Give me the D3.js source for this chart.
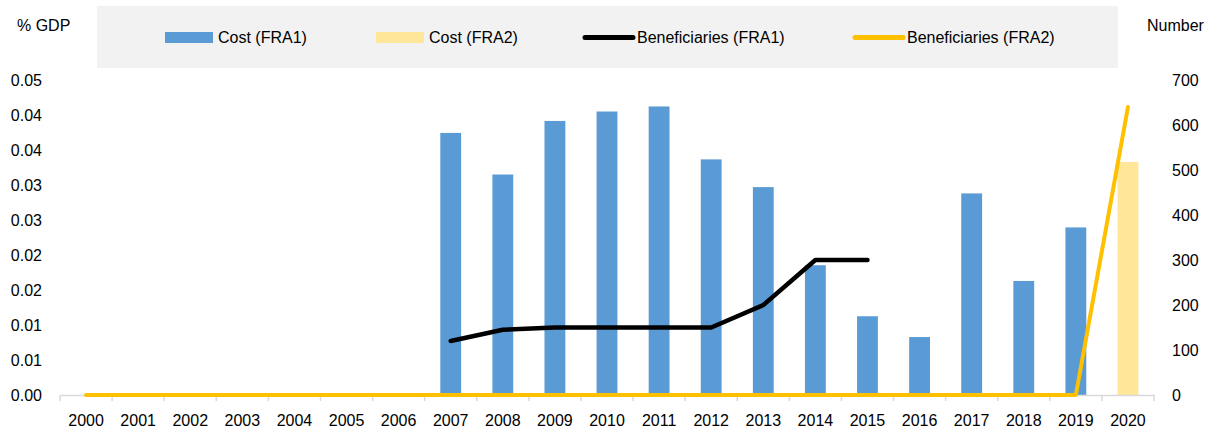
<!DOCTYPE html>
<html><head><meta charset="utf-8">
<script src="https://cdn.jsdelivr.net/npm/d3@7"></script>
<style>body{margin:0;background:#fff;} svg{display:block;font-family:"Liberation Sans",Arial,sans-serif;}</style>
</head><body><div id="chart"></div>
<script>
const years = ["2000","2001","2002","2003","2004","2005","2006","2007","2008","2009","2010","2011","2012","2013","2014","2015","2016","2017","2018","2019","2020"];
const costFRA1 = [null,null,null,null,null,null,null,0.0416,0.0350,0.0435,0.0450,0.0458,0.0374,0.0330,0.0206,0.0125,0.0092,0.0320,0.0181,0.0266,null];
const costFRA2 = [null,null,null,null,null,null,null,null,null,null,null,null,null,null,null,null,null,null,null,null,0.0370];
const benFRA1 = [null,null,null,null,null,null,null,120,145,150,150,150,150,200,300,300,null,null,null,null,null];
const benFRA2 = [0,0,0,0,0,0,0,0,0,0,0,0,0,0,0,0,0,0,0,0,640];
const leftTicks = [0,0.05/9,0.1/9,0.15/9,0.2/9,0.25/9,0.3/9,0.35/9,0.4/9,0.05];
const rightTicks = [0,100,200,300,400,500,600,700];

const W=1220,H=432;
const svg=d3.select("#chart").append("svg").attr("width",W).attr("height",H);
const x=d3.scaleBand().domain(years).range([60,1154]);
const yL=d3.scaleLinear().domain([0,0.05]).range([395,80]);
const yR=d3.scaleLinear().domain([0,700]).range([395,80]);
const bw=x.bandwidth()*0.4;
const cx=d=>x(d)+x.bandwidth()/2;

svg.append("g").selectAll("text").data(leftTicks).join("text")
  .attr("x",42).attr("y",d=>yL(d)).attr("dy","0.35em").attr("text-anchor","end")
  .attr("font-size",16).attr("fill","#000").text(d=>d3.format(".2f")(d));
svg.append("g").selectAll("text").data(rightTicks).join("text")
  .attr("x",1172).attr("y",d=>yR(d)).attr("dy","0.35em").attr("text-anchor","start")
  .attr("font-size",16).attr("fill","#000").text(d=>d);

svg.append("text").attr("x",17).attr("y",31).attr("font-size",16).text("% GDP");
svg.append("text").attr("x",1147).attr("y",31).attr("font-size",16).text("Number");

svg.append("g").selectAll("rect").data(years.map((y,i)=>({y,v:costFRA1[i]})).filter(d=>d.v!=null)).join("rect")
  .attr("x",d=>cx(d.y)-bw/2).attr("width",bw).attr("y",d=>yL(d.v)).attr("height",d=>yL(0)-yL(d.v)).attr("fill","#5b9bd5");
svg.append("g").selectAll("rect").data(years.map((y,i)=>({y,v:costFRA2[i]})).filter(d=>d.v!=null)).join("rect")
  .attr("x",d=>cx(d.y)-bw/2).attr("width",bw).attr("y",d=>yL(d.v)).attr("height",d=>yL(0)-yL(d.v)).attr("fill","#ffe699");

const xa=svg.append("g").attr("transform","translate(0,395)")
  .call(d3.axisBottom(x).tickSize(0).tickPadding(20));
xa.select(".domain").attr("stroke","#d9d9d9").attr("stroke-width",1.5);
xa.selectAll("text").attr("font-size",16).attr("fill","#000").attr("font-family","Liberation Sans, Arial, sans-serif");
const bounds=years.map(y=>x(y)).concat([x.range()[1]]);
svg.append("g").selectAll("line").data(bounds).join("line")
  .attr("x1",d=>d).attr("x2",d=>d).attr("y1",395).attr("y2",401).attr("stroke","#d9d9d9").attr("stroke-width",1.5);

const line=d3.line().defined(d=>d.v!=null).x(d=>cx(d.y)).y(d=>yR(d.v));
svg.append("path").datum(years.map((y,i)=>({y,v:benFRA1[i]})))
  .attr("d",line).attr("fill","none").attr("stroke","#000").attr("stroke-width",4.5).attr("stroke-linecap","round").attr("stroke-linejoin","round");
svg.append("path").datum(years.map((y,i)=>({y,v:benFRA2[i]})))
  .attr("d",line).attr("fill","none").attr("stroke","#ffc000").attr("stroke-width",4).attr("stroke-linecap","round").attr("stroke-linejoin","round");

svg.append("rect").attr("x",97).attr("y",6).attr("width",1021).attr("height",62).attr("fill","#f2f2f2");
const legend=[
  {t:"Cost (FRA1)",type:"rect",c:"#5b9bd5",x:165},
  {t:"Cost (FRA2)",type:"rect",c:"#ffe699",x:376},
  {t:"Beneficiaries (FRA1)",type:"line",c:"#000",x:585},
  {t:"Beneficiaries (FRA2)",type:"line",c:"#ffc000",x:855}
];
const lg=svg.append("g").selectAll("g").data(legend).join("g");
lg.filter(d=>d.type==="rect").append("rect").attr("x",d=>d.x).attr("y",32).attr("width",48).attr("height",11).attr("fill",d=>d.c);
lg.filter(d=>d.type==="line").append("line").attr("x1",d=>d.x).attr("x2",d=>d.x+48).attr("y1",37.5).attr("y2",37.5)
  .attr("stroke",d=>d.c).attr("stroke-width",5).attr("stroke-linecap","round");
lg.append("text").attr("x",d=>d.type==="rect"?d.x+53:d.x+52).attr("y",43).attr("font-size",16).attr("fill","#000").text(d=>d.t);
</script></body></html>
